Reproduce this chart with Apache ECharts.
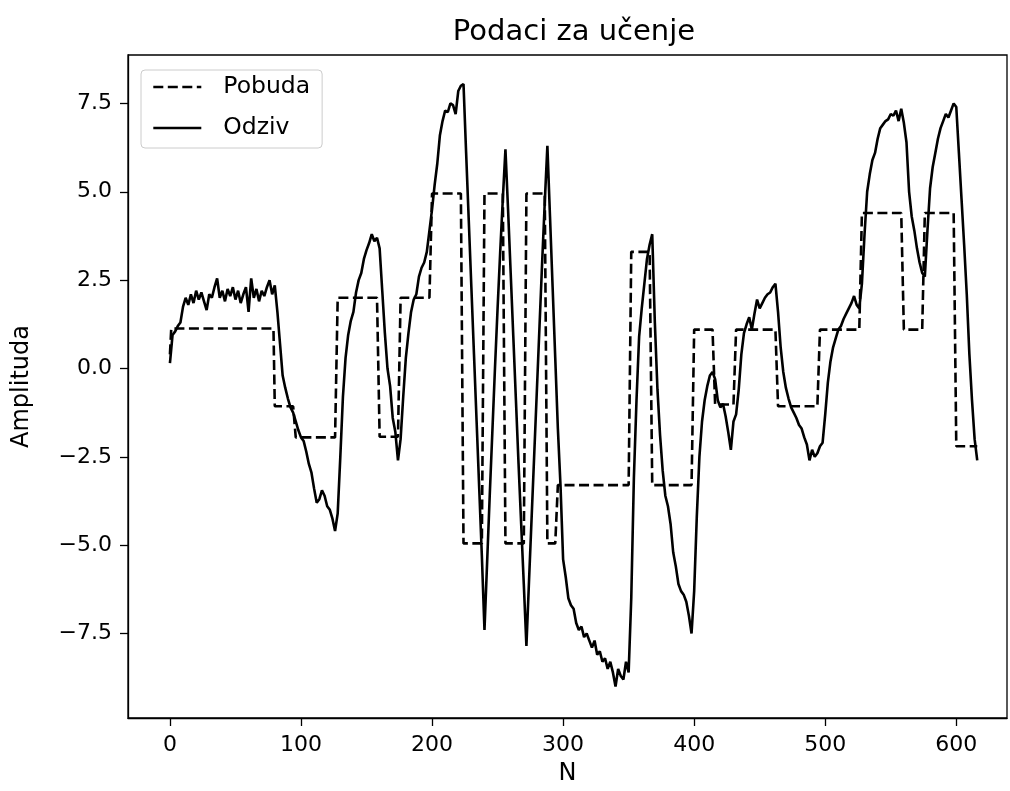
<!DOCTYPE html>
<html>
<head>
<meta charset="utf-8">
<script src="https://cdn.jsdelivr.net/npm/echarts@6/dist/echarts.min.js"></script>
<style>
html,body{margin:0;padding:0;background:#fff;}
#chart{width:1010px;height:791px;}
</style>
</head>
<body>
<div id="chart"></div>
<script>
// ---- data ----
const titleText = 'Podaci za učenje';
const xName = 'N';
const yName = 'Amplituda';
const seriesNames = ['Pobuda', 'Odziv'];
const xTicks = [0, 100, 200, 300, 400, 500, 600];
const yTicks = [-7.5, -5.0, -2.5, 0.0, 2.5, 5.0, 7.5];
const lastN = 616;

// Pobuda (excitation): step starts and levels
const pobudaStart = [0, 1, 80, 96, 128, 160, 176, 200, 224, 240, 256, 272, 288, 296, 352, 368, 400, 416, 432, 464, 496, 528, 560, 576, 600];
const pobudaLevel = [0.4, 1.13, -1.07, -1.95, 2.0, -1.93, 2.0, 4.95, -4.95, 4.95, -4.95, 4.95, -4.95, -3.3, 3.3, -3.3, 1.1, -1.02, 1.1, -1.07, 1.1, 4.4, 1.1, 4.4, -2.2];

// Odziv (response): read at every 2nd sample, N = 0, 2, 4, ..., 616
const odzivStep = 2;
const odzivValues = [
  0.15, 0.95, 1.05, 1.2, 1.3, 1.75, 2.0, 1.8, 2.1, 1.85,      // 0-18
  2.2, 1.95, 2.15, 1.9, 1.65, 2.1, 2.0, 2.3, 2.55, 2.0,       // 20-38
  2.2, 1.9, 2.25, 2.05, 2.3, 1.95, 2.2, 1.85, 2.1, 2.3,       // 40-58
  1.6, 2.55, 2.0, 2.25, 1.9, 2.2, 2.05, 2.3, 2.5, 2.1,        // 60-78
  2.35, 1.6, 0.7, -0.2, -0.55, -0.85, -1.1, -1.25, -1.5, -1.75, // 80-98
  -1.95, -2.05, -2.35, -2.7, -2.95, -3.4, -3.8, -3.7, -3.45, -3.6, // 100-118
  -3.9, -4.0, -4.25, -4.6, -4.1, -2.5, -0.8, 0.3, 0.95, 1.35,  // 120-138
  1.6, 2.15, 2.5, 2.7, 3.1, 3.35, 3.55, 3.8, 3.6, 3.7,        // 140-158
  3.4, 2.2, 1.0, 0.0, -0.5, -1.4, -1.8, -2.6, -2.0, -0.8,     // 160-178
  0.3, 1.0, 1.6, 1.95, 2.1, 2.6, 2.85, 3.0, 3.3, 3.9,         // 180-198
  4.5, 5.2, 5.8, 6.6, 7.0, 7.3, 7.25, 7.5, 7.45, 7.2,         // 200-218
  7.85, 8.0, 8.05, 6.1, 4.2, 2.3, 0.4, -1.5, -3.4, -5.3,      // 220-238
  -7.4, -5.5, -3.6, -1.8, 0.0, 1.7, 3.3, 4.8, 6.2, 4.5,       // 240-258
  2.7, 0.9, -0.9, -2.7, -4.4, -6.1, -7.85, -6.0, -4.2, -2.4,  // 260-278
  -0.6, 1.2, 3.0, 4.7, 6.3, 4.3, 2.3, 0.3, -1.7, -3.3,        // 280-298
  -5.4, -5.9, -6.5, -6.7, -6.8, -7.2, -7.4, -7.3, -7.6, -7.5, // 300-318
  -7.7, -7.9, -7.7, -8.1, -8.0, -8.3, -8.2, -8.5, -8.3, -8.6, // 320-338
  -9.0, -8.5, -8.7, -8.8, -8.3, -8.6, -6.5, -3.1, -0.9, 0.9,  // 340-358
  1.7, 2.4, 3.1, 3.5, 3.8, 1.3, -0.6, -1.9, -2.9, -3.6,       // 360-378
  -3.9, -4.4, -5.2, -5.6, -6.1, -6.3, -6.4, -6.6, -7.0, -7.5, // 380-398
  -6.3, -4.2, -2.5, -1.5, -0.9, -0.5, -0.2, -0.1, -0.3, -0.9, // 400-418
  -1.1, -1.0, -1.35, -1.8, -2.3, -1.5, -1.3, -0.6, 0.4, 1.0,  // 420-438
  1.25, 1.45, 1.1, 1.55, 1.95, 1.7, 1.85, 2.0, 2.1, 2.15,     // 440-458
  2.3, 2.4, 1.6, 0.6, -0.1, -0.55, -0.85, -1.1, -1.25, -1.4,  // 460-478
  -1.6, -1.7, -1.95, -2.15, -2.6, -2.3, -2.5, -2.4, -2.2, -2.1, // 480-498
  -1.3, -0.4, 0.2, 0.6, 0.85, 1.1, 1.2, 1.4, 1.55, 1.7,       // 500-518
  1.85, 2.05, 1.8, 1.7, 2.4, 3.8, 5.0, 5.5, 5.9, 6.1,         // 520-538
  6.5, 6.8, 6.9, 7.0, 7.05, 7.2, 7.15, 7.3, 7.0, 7.35,        // 540-558
  6.95, 6.4, 5.0, 4.3, 3.9, 3.4, 3.0, 2.7, 2.6, 3.9,          // 560-578
  5.1, 5.7, 6.1, 6.5, 6.8, 7.0, 7.2, 7.1, 7.3, 7.5,           // 580-598
  7.4, 6.1, 4.8, 3.5, 2.1, 0.4, -0.9, -2.0, -2.6              // 600-616
];

// ---- build series data from the arrays ----
const pobudaData = [];
for (let n = 0; n <= lastN; n++) {
  let lvl = pobudaLevel[0];
  for (let k = 0; k < pobudaStart.length; k++) {
    if (pobudaStart[k] <= n) lvl = pobudaLevel[k];
  }
  pobudaData.push([n, lvl]);
}
const odzivData = odzivValues.map((v, i) => [i * odzivStep, v]);

const FONT = 'DejaVu Sans';
const fmtY = v => (v < 0 ? '\u2212' : '') + Math.abs(v).toFixed(1);

const chart = echarts.init(document.getElementById('chart'), null, {renderer: 'canvas'});
chart.setOption({
  animation: false,
  backgroundColor: '#ffffff',
  textStyle: {fontFamily: FONT},
  title: {
    text: titleText,
    left: 569, top: 13, textAlign: 'center',
    textStyle: {fontFamily: FONT, fontSize: 29, fontWeight: 'normal', color: '#000'}
  },
  legend: {
    orient: 'vertical',
    left: 141, top: 70,
    itemWidth: 48, itemHeight: 14, itemGap: 17,
    padding: [5, 12, 8, 11],
    backgroundColor: 'rgba(255,255,255,0.8)',
    borderColor: '#cccccc', borderWidth: 1, borderRadius: 4,
    itemStyle: {opacity: 0, borderWidth: 0},
    lineStyle: {width: 2.6},
    textStyle: {fontFamily: FONT, fontSize: 23.5, color: '#000', padding: [0, 0, 0, 17]},
    data: seriesNames
  },
  grid: {
    left: 128, top: 55, width: 879, height: 664,
    show: true, borderColor: '#000', borderWidth: 1.3, backgroundColor: 'transparent',
    containLabel: false
  },
  xAxis: {
    type: 'value', min: -32, max: 638.7,
    name: xName, nameLocation: 'middle', nameGap: 44,
    nameTextStyle: {fontFamily: FONT, fontSize: 24, color: '#000'},
    axisLine: {show: true, onZero: false, lineStyle: {color: '#000', width: 1.3}},
    axisTick: {show: true, customValues: xTicks, length: 8, inside: false, lineStyle: {color: '#000', width: 1.3}},
    axisLabel: {customValues: xTicks, fontFamily: FONT, fontSize: 22, color: '#000', margin: 16},
    splitLine: {show: false}
  },
  yAxis: {
    type: 'value', min: -9.89, max: 8.87,
    name: yName, nameLocation: 'middle', nameGap: 94,
    nameTextStyle: {fontFamily: FONT, fontSize: 24, color: '#000'},
    axisLine: {show: true, onZero: false, lineStyle: {color: '#000', width: 1.3}},
    axisTick: {show: true, customValues: yTicks, length: 8, inside: false, lineStyle: {color: '#000', width: 1.3}},
    axisLabel: {customValues: yTicks, formatter: fmtY, fontFamily: FONT, fontSize: 22, color: '#000', margin: 16},
    splitLine: {show: false}
  },
  series: [
    {
      name: seriesNames[0], type: 'line', data: pobudaData,
      symbol: 'none', showSymbol: false, z: 2,
      lineStyle: {color: '#000', width: 2.6, type: [10, 4.5]},
      itemStyle: {color: '#000'}
    },
    {
      name: seriesNames[1], type: 'line', data: odzivData,
      symbol: 'none', showSymbol: false, z: 3,
      lineStyle: {color: '#000', width: 2.6},
      itemStyle: {color: '#000'}
    }
  ]
});
</script>
</body>
</html>
